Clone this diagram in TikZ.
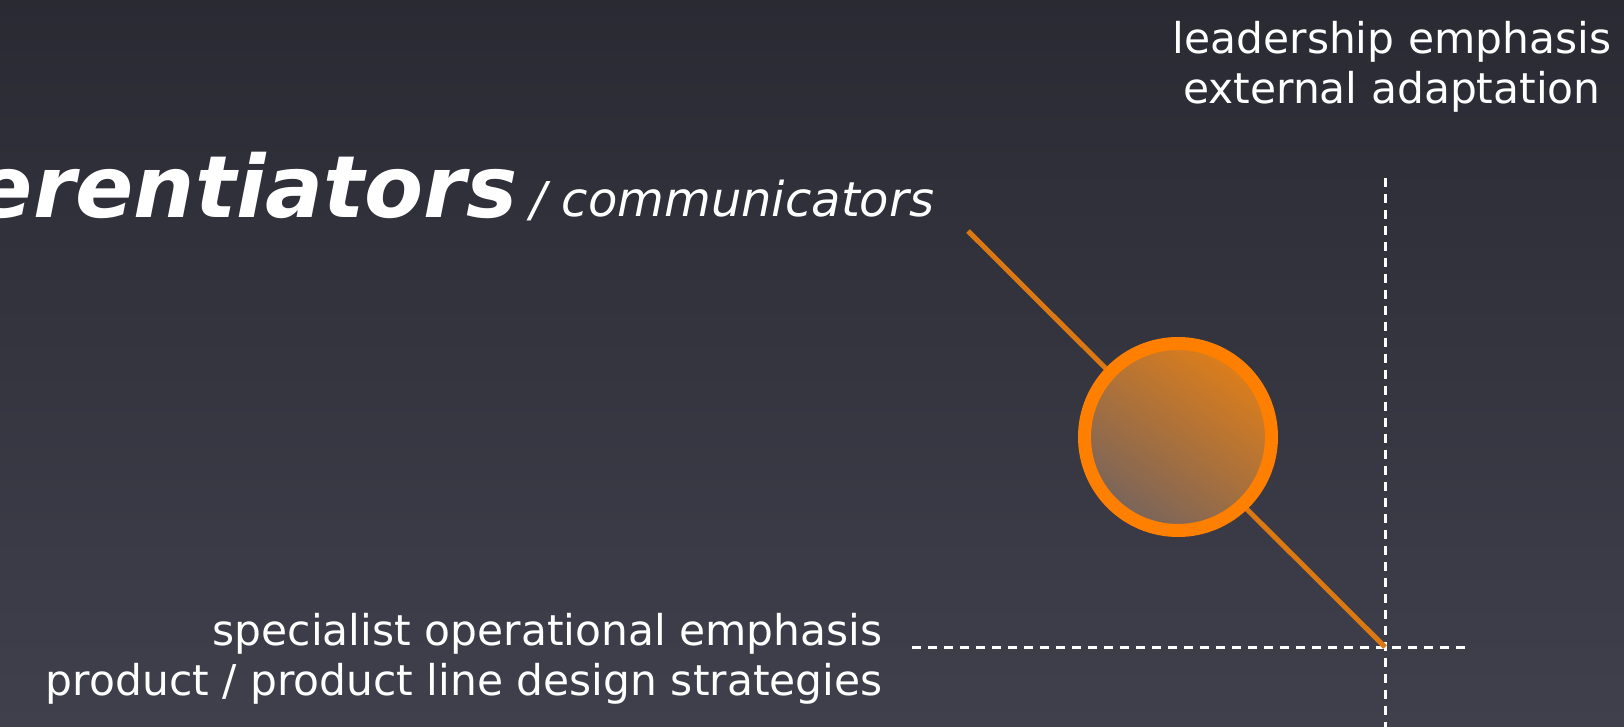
\documentclass[tikz,border=0pt]{standalone}
\usepackage{fontspec}
\setmainfont{DejaVu Sans}
\usepackage{xcolor}
\usetikzlibrary{positioning}

\definecolor{bgtop}{RGB}{42,42,51}
\definecolor{bgbottom}{RGB}{64,64,77}
\definecolor{ringorange}{RGB}{255,128,0}
\definecolor{lineorange}{RGB}{220,120,18}
\definecolor{fillorange}{RGB}{222,126,26}
\definecolor{fillgrey}{RGB}{120,100,92}

\tikzset{
  label/.style={text=white, inner sep=0pt, font=\fontsize{21.2}{25}\selectfont},
  axis/.style={white, line width=1.5pt, dash pattern=on 4.5pt off 3.5pt},
}

\begin{document}
\begin{tikzpicture}[x=0.5pt, y=-0.5pt]
        \shade[top color=bgtop, bottom color=bgbottom] (0,0) rectangle (1624,727);
        \useasboundingbox (0,0) rectangle (1624,727);

        % title
        \node[text=white, inner sep=0pt, anchor=base east,
          font=\fontsize{43}{50}\selectfont\bfseries\itshape] (T) at (518,218) {erentiators};
        \node[text=white, inner sep=0pt, anchor=base west,
          font=\fontsize{24}{28}\selectfont\itshape] (S) at (530,217) {/ communicators};

        % axis labels
        \node[label, align=center, anchor=north] (L) at (1392,21) {leadership emphasis\\external adaptation};
        \node[label, align=right, anchor=north east] (P) at (883,613) {specialist operational emphasis\\product / product line design strategies};

        \coordinate (V1) at (1385,178);
        \coordinate (V2) at (1385,727);
        \coordinate (H1) at (912,647);
        \coordinate (H2) at (1465,647);
        \coordinate (O) at (1385,647);
        \coordinate (E) at (968,231);

        \draw[axis] (V1) -- (V2);
        \draw[axis] (H1) -- (H2);

        \draw[lineorange, line width=2.5pt] (E) -- (O);

        \node[circle, draw=ringorange, line width=6.5pt, minimum size=93.5pt, inner sep=0pt,
          top color=fillorange, bottom color=fillgrey, shading angle=-35] (C) at (1178,437) {};

      \end{tikzpicture}
\end{document}
